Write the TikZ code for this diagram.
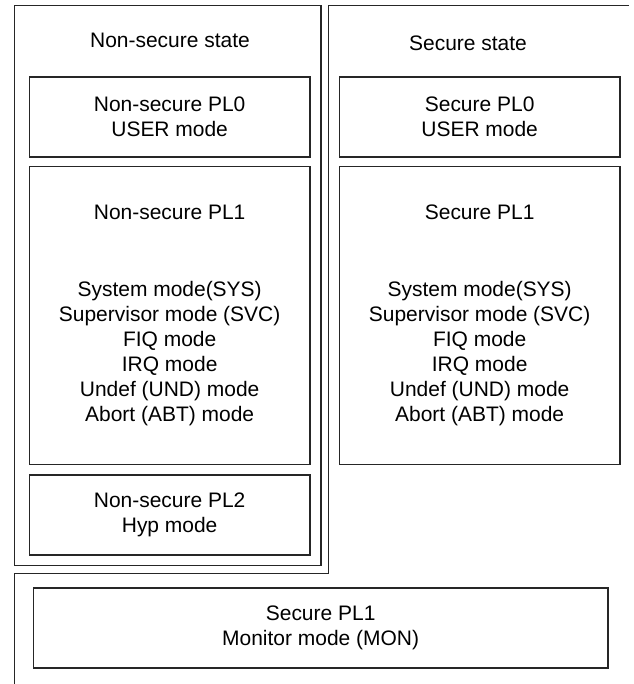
\documentclass[tikz,border=0pt]{standalone}
\usepackage{fontspec}
\setmainfont{Liberation Sans}
\pgfdeclarelayer{edgelayer}
\pgfdeclarelayer{nodelayer}
\pgfsetlayers{edgelayer,nodelayer,main}
\tikzset{font=\fontsize{17.9pt}{21.3pt}\selectfont}
\tikzstyle{none}=[inner sep=0pt]
\tikzstyle{txt}=[inner sep=0pt, align=center]
\tikzstyle{mode}=[draw=black!85, line width=1.1pt, align=center, inner sep=0pt, minimum width=8.42cm, minimum height=2.4cm]
\tikzstyle{bigmode}=[mode, minimum height=8.94cm]
\tikzstyle{monitor}=[mode, minimum width=17.24cm]
\tikzstyle{outline}=[draw=black!85, line width=1.1pt]

\begin{document}
\begin{tikzpicture}[x=0.03cm, y=-0.03cm]
	\useasboundingbox (0, 0) rectangle (633, 684);
	\begin{pgfonlayer}{nodelayer}
		% non-secure state
		\node [style=txt] (0) at (170, 40) {Non-secure state};
		\node [style=mode] (1) at (169.65, 117) {Non-secure PL0\\USER mode};
		\node [style=bigmode] (2) at (169.65, 315.5) {};
		\node [style=txt] (3) at (169.65, 212) {Non-secure PL1};
		\node [style=txt] (4) at (169.65, 353.5) {System mode(SYS)\\Supervisor mode (SVC)\\FIQ mode\\IRQ mode\\Undef (UND) mode\\Abort (ABT) mode};
		\node [style=mode] (5) at (169.65, 515) {Non-secure PL2\\Hyp mode};
		% secure state
		\node [style=txt] (6) at (468, 43) {Secure state};
		\node [style=mode] (7) at (479.65, 117) {Secure PL0\\USER mode};
		\node [style=bigmode] (8) at (479.65, 315.5) {};
		\node [style=txt] (9) at (479.65, 212) {Secure PL1};
		\node [style=txt] (10) at (479.65, 353.5) {System mode(SYS)\\Supervisor mode (SVC)\\FIQ mode\\IRQ mode\\Undef (UND) mode\\Abort (ABT) mode};
		\node [style=monitor] (11) at (320.65, 628) {Secure PL1\\Monitor mode (MON)};
		% frame corners
		\node [style=none] (12) at (14.7, 5.7) {};
		\node [style=none] (13) at (321, 5.7) {};
		\node [style=none] (14) at (321, 565.7) {};
		\node [style=none] (15) at (14.7, 565.7) {};
		\node [style=none] (16) at (629, 5.7) {};
		\node [style=none] (17) at (328.3, 5.7) {};
		\node [style=none] (18) at (328.3, 573.3) {};
		\node [style=none] (19) at (14.7, 573.3) {};
		\node [style=none] (20) at (14.7, 684) {};
	\end{pgfonlayer}
	\begin{pgfonlayer}{edgelayer}
		\draw [style=outline] (12.center) to (13.center) to (14.center) to (15.center) -- cycle;
		\draw [style=outline] (16.center) to (17.center) to (18.center) to (19.center) to (20.center);
	\end{pgfonlayer}
\end{tikzpicture}
\end{document}
